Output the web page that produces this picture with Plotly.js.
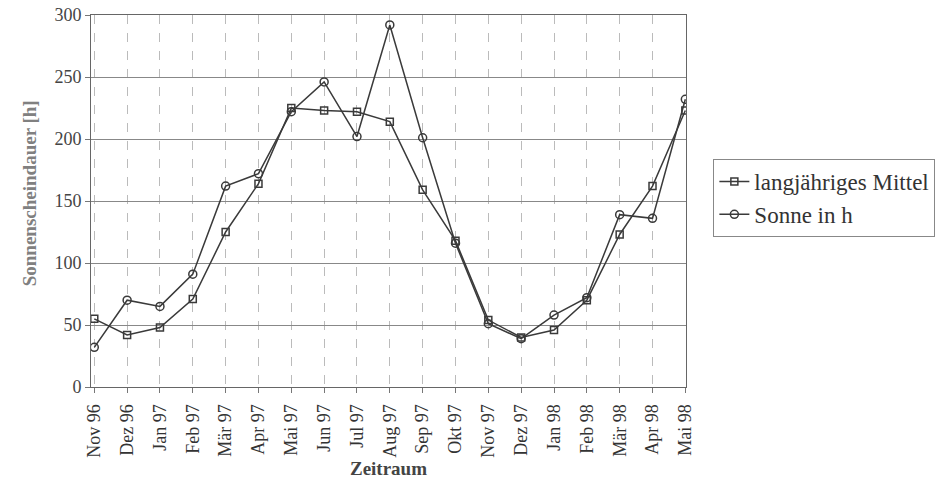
<!DOCTYPE html>
<html>
<head>
<meta charset="utf-8">
<script src="https://cdn.plot.ly/plotly-3.0.1.min.js"></script>
<style>html,body{margin:0;padding:0;background:#fff;}#chart{width:947px;height:494px;}</style>
</head>
<body>
<div id="chart"></div>
<script>
const categories = ["Nov 96","Dez 96","Jan 97","Feb 97","Mär 97","Apr 97","Mai 97","Jun 97","Jul 97","Aug 97","Sep 97","Okt 97","Nov 97","Dez 97","Jan 98","Feb 98","Mär 98","Apr 98","Mai 98"];
const mittel = [55, 42, 48, 71, 125, 164, 225, 223, 222, 214, 159, 118, 54, 40, 46, 70, 123, 162, 223];
const sonne = [32, 70, 65, 91, 162, 172, 222, 246, 202, 292, 201, 116, 51, 39, 58, 72, 139, 136, 232];
const seriesNames = ["langjähriges Mittel", "Sonne in h"];
const yTicks = [0, 50, 100, 150, 200, 250, 300];
const yTitle = "Sonnenscheindauer [h]";
const xTitle = "Zeitraum";

const idx = categories.map((c, i) => i);
const lineColor = "#3a3a3a";
const font = "Liberation Serif";

const traces = [
  {x: idx, y: mittel, name: seriesNames[0], mode: "lines+markers",
   line: {color: lineColor, width: 1.5},
   marker: {symbol: "square-open", size: 7, color: lineColor, line: {width: 1.5}}},
  {x: idx, y: sonne, name: seriesNames[1], mode: "lines+markers",
   line: {color: lineColor, width: 1.5},
   marker: {symbol: "circle-open", size: 8, color: lineColor, line: {width: 1.5}}}
];

const layout = {
  width: 947, height: 494,
  paper_bgcolor: "#fff", plot_bgcolor: "#fff",
  margin: {l: 91, r: 258, t: 15, b: 107, pad: 0},
  font: {family: font, color: "#333", size: 18},
  showlegend: true,
  legend: {x: 1.046, y: 0.613, xanchor: "left", yanchor: "top",
           bordercolor: "#888", borderwidth: 1, font: {size: 23, family: font, color: "#333"},
           tracegroupgap: 0, itemwidth: 30},
  xaxis: {
    range: [-0.1, 18.02], tickmode: "array", tickvals: idx, ticktext: categories,
    tickangle: -90, ticks: "outside", ticklen: 5, tickcolor: "#777", ticklabelstandoff: 4,
    showgrid: true, gridcolor: "#bbb", griddash: "dash", gridwidth: 1,
    showline: true, linecolor: "#666", linewidth: 1, mirror: true,
    zeroline: false, tickfont: {size: 18, family: font, color: "#333"},
    title: {text: "<b>" + xTitle + "</b>", font: {size: 19, family: font, color: "#444"}, standoff: 2}
  },
  yaxis: {
    range: [0, 300], tickmode: "array", tickvals: yTicks,
    ticks: "outside", ticklen: 5, tickcolor: "#777",
    showgrid: true, gridcolor: "#888", gridwidth: 1,
    showline: true, linecolor: "#666", linewidth: 1, mirror: true,
    zeroline: false, tickfont: {size: 18, family: font, color: "#444"}
  },
  annotations: [
    {text: "<b>" + yTitle + "</b>", xref: "paper", yref: "paper", x: -0.104, y: 0.521,
     xanchor: "center", yanchor: "middle", textangle: -90, showarrow: false,
     font: {size: 19, family: font, color: "#808080"}}
  ]
};

Plotly.newPlot("chart", traces, layout, {displayModeBar: false, staticPlot: true});
</script>
</body>
</html>
